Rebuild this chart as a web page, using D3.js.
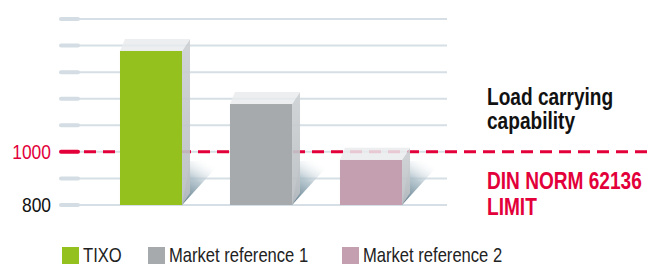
<!DOCTYPE html>
<html>
<head>
<meta charset="utf-8">
<script src="https://cdn.jsdelivr.net/npm/d3@7"></script>
<style>
  body { margin: 0; background: #fff; }
  svg { display: block; font-family: "Liberation Sans", Arial, sans-serif; }
</style>
</head>
<body>
<div id="chart"></div>
<script>
var categories = ['TIXO', 'Market reference 1', 'Market reference 2'];
var values = [1380, 1180, 970];
var colors = ['#95c11f', '#a7aaac', '#c49fb0'];
var gridTicks = [800, 900, 1000, 1100, 1200, 1300, 1400, 1500];
var tickLabels = [800, 1000];
var limitValue = 1000;
var titleLines = ['Load carrying', 'capability'];
var limitLines = ['DIN NORM 62136', 'LIMIT'];

var width = 650, height = 264;
var red = '#e3003a';
var depthX = 8, depthY = 12;
var narrow = 0.83; // condensed look

function place(xp, yp) {
    return 'translate(' + xp + ',' + yp + ') scale(' + narrow + ',1)';
}

var svg = d3.select('#chart')
    .append('svg')
    .attr('width', width)
    .attr('height', height);

var defs = svg.append('defs');
var shadow = defs.append('linearGradient')
    .attr('id', 'shadow')
    .attr('x1', 0).attr('y1', 1)
    .attr('x2', 0.55).attr('y2', 0);
shadow.append('stop').attr('offset', '0%').attr('stop-color', '#4f6f7f').attr('stop-opacity', 1);
shadow.append('stop').attr('offset', '55%').attr('stop-color', '#a9bcc6').attr('stop-opacity', 0.8);
shadow.append('stop').attr('offset', '100%').attr('stop-color', '#ffffff').attr('stop-opacity', 0);

var side = defs.append('linearGradient')
    .attr('id', 'side')
    .attr('x1', 0).attr('y1', 0)
    .attr('x2', 0).attr('y2', 1);
side.append('stop').attr('offset', '0%').attr('stop-color', '#cdd1d4');
side.append('stop').attr('offset', '100%').attr('stop-color', '#b9bec2');

var y = d3.scaleLinear()
    .domain([800, 1500])
    .range([205, 19]);

var x = d3.scaleBand()
    .domain(categories)
    .range([96, 426])
    .paddingInner(0.436)
    .paddingOuter(0.218);

// gridlines
svg.selectAll('.grid')
    .data(gridTicks)
    .enter()
    .append('line')
    .attr('class', 'grid')
    .attr('x1', 60).attr('x2', 447)
    .attr('y1', function(d) { return y(d); })
    .attr('y2', function(d) { return y(d); })
    .attr('stroke', '#d6dfe5')
    .attr('stroke-width', 2);

svg.selectAll('.gridcap')
    .data(gridTicks.filter(function(d) { return d !== limitValue; }))
    .enter()
    .append('line')
    .attr('class', 'gridcap')
    .attr('x1', 61).attr('x2', 78)
    .attr('y1', function(d) { return y(d); })
    .attr('y2', function(d) { return y(d); })
    .attr('stroke', '#d3dde3')
    .attr('stroke-width', 4)
    .attr('stroke-linecap', 'round');

// tick labels
svg.selectAll('.ticklabel')
    .data(tickLabels)
    .enter()
    .append('text')
    .attr('class', 'ticklabel')
    .attr('transform', function(d) { return place(51, y(d) + 7); })
    .attr('text-anchor', 'end')
    .attr('font-size', 21)
    .attr('fill', function(d) { return d === limitValue ? red : '#111'; })
    .text(function(d) { return d; });

// limit line
svg.append('line')
    .attr('x1', 61).attr('x2', 78)
    .attr('y1', y(limitValue)).attr('y2', y(limitValue))
    .attr('stroke', red)
    .attr('stroke-width', 4)
    .attr('stroke-linecap', 'round');

svg.append('line')
    .attr('x1', 84).attr('x2', width)
    .attr('y1', y(limitValue)).attr('y2', y(limitValue))
    .attr('stroke', red)
    .attr('stroke-width', 3)
    .attr('stroke-dasharray', '12,7');

// bars
var bars = svg.selectAll('.bar')
    .data(categories)
    .enter()
    .append('g')
    .attr('class', 'bar');

bars.append('polygon')
    .attr('points', function(d) {
        var x1 = x(d) + x.bandwidth(), y0 = y(800);
        return [[x1, y0], [x1 + depthX, y0 - 44], [x1 + 42, y0 - 46]].join(' ');
    })
    .attr('fill', 'url(#shadow)');

bars.append('rect')
    .attr('x', function(d) { return x(d); })
    .attr('y', function(d, i) { return y(values[i]); })
    .attr('width', x.bandwidth())
    .attr('height', function(d, i) { return y(800) - y(values[i]); })
    .attr('fill', function(d, i) { return colors[i]; });

bars.append('polygon')
    .attr('points', function(d, i) {
        var x1 = x(d) + x.bandwidth(), yt = y(values[i]), y0 = y(800);
        return [[x1, yt], [x1 + depthX, yt - depthY], [x1 + depthX, y0 - depthY], [x1, y0]].join(' ');
    })
    .attr('fill', 'url(#side)')
    .attr('opacity', 0.92);

bars.append('polygon')
    .attr('points', function(d, i) {
        var x0 = x(d), x1 = x0 + x.bandwidth(), yt = y(values[i]);
        return [[x0, yt], [x0 + 5, yt - depthY], [x1 + depthX, yt - depthY], [x1, yt]].join(' ');
    })
    .attr('fill', '#e9ebed')
    .attr('opacity', 0.85);

// annotations
svg.selectAll('.title')
    .data(titleLines)
    .enter()
    .append('text')
    .attr('class', 'title')
    .attr('transform', function(d, i) { return place(487, 105 + i * 24); })
    .attr('font-size', 23).attr('font-weight', 'bold')
    .attr('fill', '#111')
    .text(function(d) { return d; });

svg.selectAll('.limit')
    .data(limitLines)
    .enter()
    .append('text')
    .attr('class', 'limit')
    .attr('transform', function(d, i) { return place(487, 189 + i * 26); })
    .attr('font-size', 23).attr('font-weight', 'bold')
    .attr('fill', red)
    .text(function(d) { return d; });

// legend
var legendX = [62, 148, 342];
var legend = svg.selectAll('.legend')
    .data(categories)
    .enter()
    .append('g')
    .attr('class', 'legend')
    .attr('transform', function(d, i) { return 'translate(' + legendX[i] + ',247)'; });

legend.append('rect')
    .attr('width', 17).attr('height', 17)
    .attr('fill', function(d, i) { return colors[i]; });

legend.append('text')
    .attr('transform', place(21, 15))
    .attr('font-size', 20)
    .attr('fill', '#222')
    .text(function(d) { return d; });
</script>
</body>
</html>
